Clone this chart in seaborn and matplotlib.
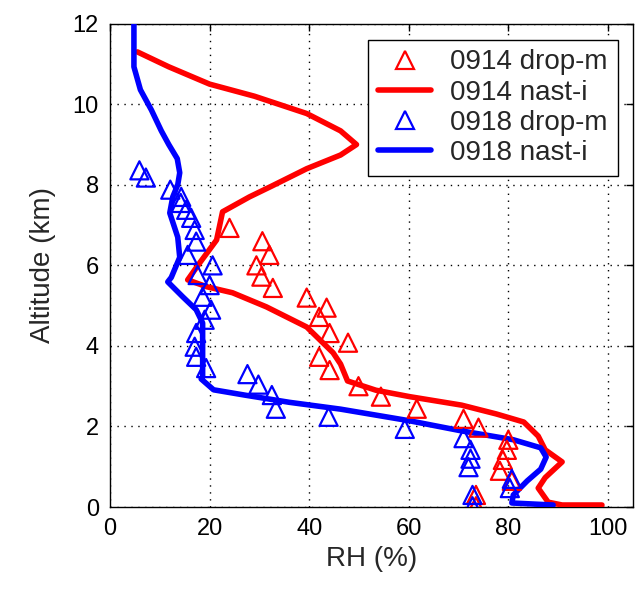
import matplotlib
matplotlib.use("Agg")
import matplotlib.pyplot as plt
from matplotlib.lines import Line2D
import seaborn as sns

# 0914 nast-i retrieval (RH %, altitude km)
red_line_rh = [5.5, 11.8, 20, 29, 39.5, 46.3, 49.5, 46.3, 39.5, 32.5, 28, 22.6, 21.4, 18, 15.6,
               19.4, 24.6, 31.4, 39.5, 44.8, 46.3, 47.7, 53.4, 60.2, 70.6, 77.6, 83.1, 86, 87.4,
               90.8, 87.4, 86, 88, 90.8, 98.8]
red_line_alt = [11.3, 10.93, 10.5, 10.2, 9.77, 9.34, 9.0, 8.74, 8.4, 7.97, 7.7, 7.33, 6.63, 6.06, 5.64,
                5.47, 5.32, 4.97, 4.47, 3.83, 3.55, 3.13, 2.9, 2.74, 2.53, 2.31, 2.11, 1.76, 1.42,
                1.12, 0.73, 0.47, 0.12, 0.05, 0.05]

# 0918 nast-i retrieval
blue_line_rh = [4.8, 4.8, 6.1, 8.3, 10.3, 11.8, 13.5, 14, 13.6, 12.6, 12, 13.6, 14, 12.3, 11.6,
                14.6, 17.3, 18.6, 18.6, 18.6, 18.3, 20.8, 27, 36, 46.3, 60.2, 70.6, 81, 86.5, 87.6,
                86.5, 83.8, 81, 80.7, 89]
blue_line_alt = [12.0, 10.93, 10.36, 9.86, 9.34, 9.0, 8.65, 8.3, 8.0, 7.7, 7.3, 6.7, 6.2,
                 5.7, 5.59, 5.22, 4.9, 4.57, 3.98, 3.23, 3.18, 2.91, 2.78, 2.6, 2.43, 2.14, 1.89, 1.67,
                 1.47, 1.24, 0.94, 0.65, 0.3, 0.1, 0.05]

# 0914 dropsonde
red_drop_rh = [24, 30.6, 32, 29.4, 30.4, 32.7, 39.5, 43.5, 42, 44.1, 47.8, 42, 44.1, 49.9, 54.4,
               61.6, 71, 74, 80, 79.7, 78.9, 78.3, 80.7, 73.5, 73.5]
red_drop_alt = [6.93, 6.6, 6.26, 6.0, 5.72, 5.44, 5.2, 4.95, 4.72, 4.32, 4.08, 3.73, 3.4, 3.0, 2.74,
                2.44, 2.19, 1.97, 1.67, 1.42, 1.17, 0.9, 0.65, 0.3, 0.02]

# 0918 dropsonde
blue_drop_rh = [5.9, 7.2, 12.1, 14.2, 14.3, 15.3, 16.3, 17, 17.3, 15.6, 20.6, 17.6, 20, 18.6, 20.3,
                19, 17.3, 17, 17.3, 19.3, 27.6, 29.8, 32.5, 33.3, 43.9, 59.2, 71, 72.4, 72.4, 72,
                80.7, 80.3, 72.8, 72.8]
blue_drop_alt = [8.36, 8.18, 7.88, 7.55, 7.7, 7.38, 7.18, 6.88, 6.59, 6.26, 6.0, 5.76, 5.51, 5.22, 4.9,
                 4.65, 4.32, 3.98, 3.73, 3.45, 3.3, 3.04, 2.78, 2.44, 2.24, 1.94, 1.71, 1.42, 1.2, 0.99,
                 0.7, 0.47, 0.3, 0.02]

x_ticks = [0, 20, 40, 60, 80, 100]
y_ticks = [0, 2, 4, 6, 8, 10, 12]
legend_labels = ["0914 drop-m", "0914 nast-i", "0918 drop-m", "0918 nast-i"]

sns.set_style("white")
plt.rcParams['font.family'] = ['Liberation Sans', 'DejaVu Sans']

fig = plt.figure(figsize=(6.36, 5.93), dpi=100)
ax = fig.add_axes([0.173, 0.145, 0.822, 0.815])

RED = "#ff0000"
BLUE = "#0000ff"

sns.lineplot(x=red_line_rh, y=red_line_alt, sort=False, estimator=None, color=RED, lw=4, ax=ax, zorder=3)
sns.lineplot(x=blue_line_rh, y=blue_line_alt, sort=False, estimator=None, color=BLUE, lw=4, ax=ax, zorder=3)
sns.scatterplot(x=red_drop_rh, y=red_drop_alt, marker="^", s=170, facecolor="none",
                edgecolor=RED, linewidth=1.6, ax=ax, zorder=4)
sns.scatterplot(x=blue_drop_rh, y=blue_drop_alt, marker="^", s=170, facecolor="none",
                edgecolor=BLUE, linewidth=1.6, ax=ax, zorder=4)

ax.set_xlim(0, 105)
ax.set_ylim(0, 12)
ax.set_xticks(x_ticks)
ax.set_yticks(y_ticks)
ax.tick_params(direction="in", top=True, right=True, length=5, width=1, labelsize=17, pad=8, colors="black")
ax.grid(True, linestyle=(0, (1, 4)), color="black", linewidth=1)
for sp in ax.spines.values():
    sp.set_color("black")
    sp.set_linewidth(1)
ax.set_xlabel("RH (%)", fontsize=20, labelpad=4)
ax.set_ylabel("Altitude (km)", fontsize=20, labelpad=12)

handles = [
    Line2D([], [], color=RED, marker="^", linestyle="none", markersize=13, markerfacecolor="none", markeredgewidth=1.6),
    Line2D([], [], color=RED, lw=4),
    Line2D([], [], color=BLUE, marker="^", linestyle="none", markersize=13, markerfacecolor="none", markeredgewidth=1.6),
    Line2D([], [], color=BLUE, lw=4),
]
leg = ax.legend(handles, legend_labels, loc="upper right", bbox_to_anchor=(0.971, 0.967), borderaxespad=0,
                fontsize=20, frameon=True, fancybox=False, edgecolor="black", framealpha=1,
                handlelength=1.9, labelspacing=0.15, borderpad=0.35, handletextpad=0.7)
leg.get_frame().set_linewidth(1)
leg.set_zorder(10)

fig.savefig("out.png", dpi=100)
